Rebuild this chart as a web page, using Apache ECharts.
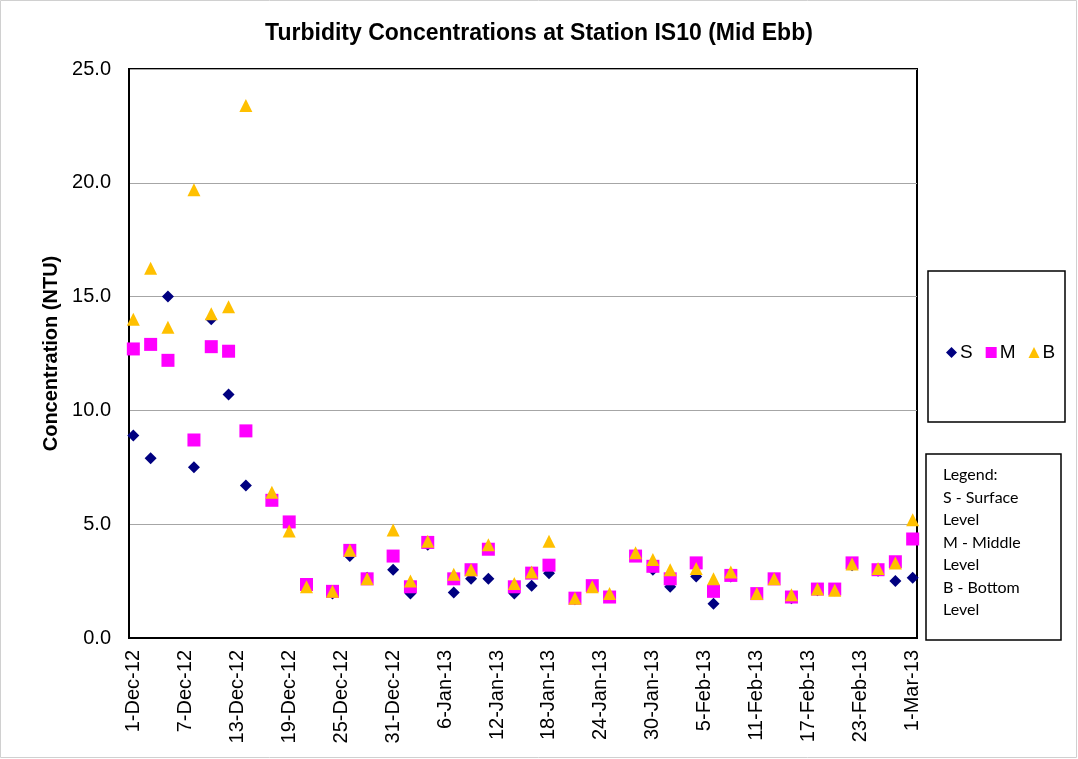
<!DOCTYPE html>
<html>
<head>
<meta charset="utf-8">
<script src="https://cdn.jsdelivr.net/npm/echarts@6/dist/echarts.min.js"></script>
<style>
  html, body { margin: 0; padding: 0; background: #fff; }
  #chart { width: 1078px; height: 759px; }
</style>
</head>
<body>
<div id="chart"></div>
<script>
// Sampling dates (mid-ebb tide) at station IS10
const sampleDates = [
  '1-Dec-12','3-Dec-12','5-Dec-12','8-Dec-12','10-Dec-12','12-Dec-12','14-Dec-12',
  '17-Dec-12','19-Dec-12','21-Dec-12','24-Dec-12','26-Dec-12','28-Dec-12','31-Dec-12',
  '2-Jan-13','4-Jan-13','7-Jan-13','9-Jan-13','11-Jan-13','14-Jan-13','16-Jan-13',
  '18-Jan-13','21-Jan-13','23-Jan-13','25-Jan-13','28-Jan-13','30-Jan-13','1-Feb-13',
  '4-Feb-13','6-Feb-13','8-Feb-13','11-Feb-13','13-Feb-13','15-Feb-13','18-Feb-13',
  '20-Feb-13','22-Feb-13','25-Feb-13','27-Feb-13','1-Mar-13'
];

// Turbidity (NTU) by depth
const surface = [
  8.9, 7.9, 15.0, 7.5, 14.0, 10.7, 6.7,
  6.1, 5.0, 2.3, 1.95, 3.6, 2.65, 3.0,
  1.95, 4.1, 2.0, 2.6, 2.6, 1.95, 2.3,
  2.85, 1.7, 2.25, 1.8, 3.6, 3.0, 2.25,
  2.7, 1.5, 2.7, 1.95, 2.6, 1.75, 2.1,
  2.1, 3.2, 2.95, 2.5, 2.65
];
const middle = [
  12.7, 12.9, 12.2, 8.7, 12.8, 12.6, 9.1,
  6.05, 5.1, 2.35, 2.05, 3.85, 2.6, 3.6,
  2.25, 4.2, 2.6, 3.0, 3.9, 2.25, 2.85,
  3.2, 1.75, 2.3, 1.8, 3.6, 3.15, 2.6,
  3.3, 2.05, 2.75, 1.95, 2.6, 1.8, 2.15,
  2.15, 3.3, 3.0, 3.35, 4.35
];
const bottom = [
  14.0, 16.25, 13.65, 19.7, 14.25, 14.55, 23.4,
  6.4, 4.7, 2.25, 2.05, 3.85, 2.6, 4.75,
  2.5, 4.25, 2.8, 3.0, 4.1, 2.4, 2.9,
  4.25, 1.75, 2.25, 1.95, 3.75, 3.45, 3.0,
  3.05, 2.6, 2.9, 1.95, 2.6, 1.9, 2.15,
  2.1, 3.25, 3.05, 3.3, 5.2
];

// Axis tick labels (every sixth day)
const tickLabels = [
  '1-Dec-12','7-Dec-12','13-Dec-12','19-Dec-12','25-Dec-12','31-Dec-12',
  '6-Jan-13','12-Jan-13','18-Jan-13','24-Jan-13','30-Jan-13','5-Feb-13',
  '11-Feb-13','17-Feb-13','23-Feb-13','1-Mar-13'
];
const yTicks = [0, 5, 10, 15, 20, 25];

const legendNotes = ['Legend:', 'S - Surface', 'Level', 'M - Middle', 'Level', 'B - Bottom', 'Level'];

// Daily categories from 1-Dec-12 to 1-Mar-13
const MONTHS = ['Jan','Feb','Mar','Apr','May','Jun','Jul','Aug','Sep','Oct','Nov','Dec'];
function fmt(d) {
  return d.getUTCDate() + '-' + MONTHS[d.getUTCMonth()] + '-' + String(d.getUTCFullYear()).slice(2);
}
const days = [];
for (let t = Date.UTC(2012, 11, 1); t <= Date.UTC(2013, 2, 1); t += 86400000) {
  days.push(fmt(new Date(t)));
}

const pairs = vals => sampleDates.map((d, i) => [d, vals[i]]);

const FONT = '"Liberation Sans", Arial, sans-serif';

const chart = echarts.init(document.getElementById('chart'));
chart.setOption({
  animation: false,
  backgroundColor: '#ffffff',
  title: {
    text: 'Turbidity Concentrations at Station IS10 (Mid Ebb)',
    left: 'center',
    top: 17,
    textStyle: { fontFamily: FONT, fontSize: 23, fontWeight: 'bold', color: '#000' }
  },
  grid: {
    left: 129, top: 69, right: 161, bottom: 121,
    show: true, borderColor: '#000', borderWidth: 2, backgroundColor: 'transparent'
  },
  legend: {
    left: 941, top: 338,
    orient: 'horizontal',
    itemWidth: 11, itemHeight: 11, itemGap: 13,
    textStyle: { fontFamily: FONT, fontSize: 19, color: '#000', padding: [0, 0, 0, -2] },
    data: [
      { name: 'S', icon: 'diamond' },
      { name: 'M', icon: 'rect' },
      { name: 'B', icon: 'triangle' }
    ]
  },
  xAxis: {
    type: 'category',
    data: days,
    boundaryGap: true,
    axisLine: { show: true, lineStyle: { color: '#000', width: 2 } },
    axisTick: { show: false },
    splitLine: { show: false },
    axisLabel: {
      interval: (idx, val) => tickLabels.includes(val),
      rotate: 90,
      margin: 12,
      fontFamily: FONT, fontSize: 20, color: '#000'
    }
  },
  yAxis: {
    type: 'value',
    min: yTicks[0], max: yTicks[yTicks.length - 1], interval: 5,
    name: 'Concentration (NTU)',
    nameLocation: 'middle',
    nameGap: 66,
    nameRotate: 90,
    nameTextStyle: { fontFamily: FONT, fontSize: 20, fontWeight: 'bold', color: '#000' },
    axisLine: { show: true, lineStyle: { color: '#000', width: 2 } },
    axisTick: { show: false },
    splitLine: { show: true, lineStyle: { color: '#a6a6a6', width: 1 } },
    axisLabel: {
      margin: 18,
      fontFamily: FONT, fontSize: 20, color: '#000',
      formatter: v => v.toFixed(1)
    }
  },
  series: [
    { name: 'S', type: 'scatter', data: pairs(surface), symbol: 'diamond', symbolSize: 12,
      itemStyle: { color: '#000080', opacity: 1 }, z: 2 },
    { name: 'M', type: 'scatter', data: pairs(middle), symbol: 'rect', symbolSize: 13,
      itemStyle: { color: '#ff00ff', opacity: 1 }, z: 3 },
    { name: 'B', type: 'scatter', data: pairs(bottom), symbol: 'triangle', symbolSize: 13,
      itemStyle: { color: '#ffc000', opacity: 1 }, z: 4 }
  ],
  graphic: [
    { type: 'rect', shape: { x: 0.5, y: 0.5, width: 1076, height: 757 },
      style: { fill: null, stroke: '#d0d0d0', lineWidth: 1 }, z: -1 },
    { type: 'rect', shape: { x: 928, y: 271, width: 137, height: 151 },
      style: { fill: '#fff', stroke: '#000', lineWidth: 1.5 }, z: -1 },
    { type: 'rect', shape: { x: 926, y: 454, width: 135, height: 186 },
      style: { fill: '#fff', stroke: '#000', lineWidth: 1.5 }, z: -1 },
    { type: 'text', left: 943, top: 464,
      style: { text: legendNotes.join('\n'), fontFamily: 'Lato, "Open Sans", sans-serif',
               fontSize: 16, lineHeight: 22.5, fill: '#000' } }
  ]
});
</script>
</body>
</html>
